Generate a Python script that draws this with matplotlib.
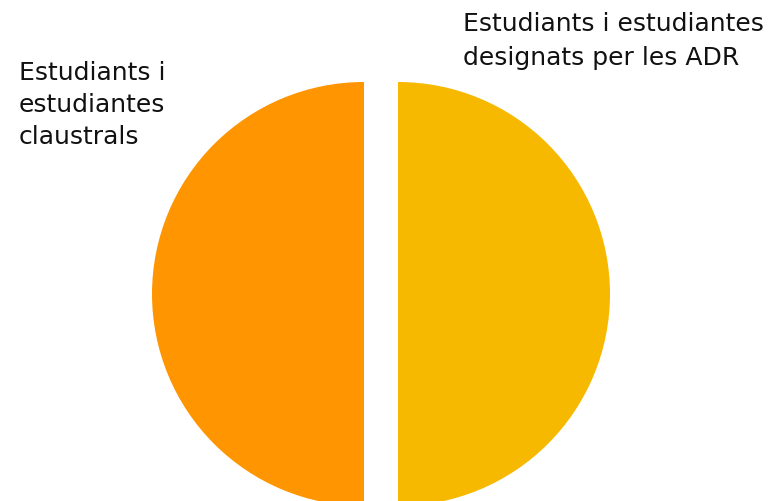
import matplotlib
matplotlib.use("Agg")
import matplotlib.pyplot as plt

# data
labels = ["Estudiants i\nestudiantes\nclaustrals",
          "Estudiants i estudiantes\ndesignats per les ADR"]
values = [50, 50]
colors = ["#FF9500", "#F7B800"]

W, H = 771, 502
fig = plt.figure(figsize=(W / 100, H / 100), dpi=100, facecolor="white")
ax = fig.add_axes([0, 0, 1, 1])

ax.pie(values, colors=colors, startangle=90, counterclock=True,
       radius=212, center=(381, H - 295), explode=[17, 17],
       wedgeprops=dict(linewidth=0))
ax.set_xlim(0, W)
ax.set_ylim(0, H)
ax.set_aspect("equal")
ax.axis("off")

font = ["DejaVu Sans"]
ax.text(19, H - 61, labels[0], ha="left", va="top", fontsize=18,
        family=font, color="#111111", linespacing=1.42)
ax.text(463, H - 12, labels[1], ha="left", va="top", fontsize=18,
        family=font, color="#111111", linespacing=1.55)

fig.savefig("out.png", dpi=100, facecolor="white")
